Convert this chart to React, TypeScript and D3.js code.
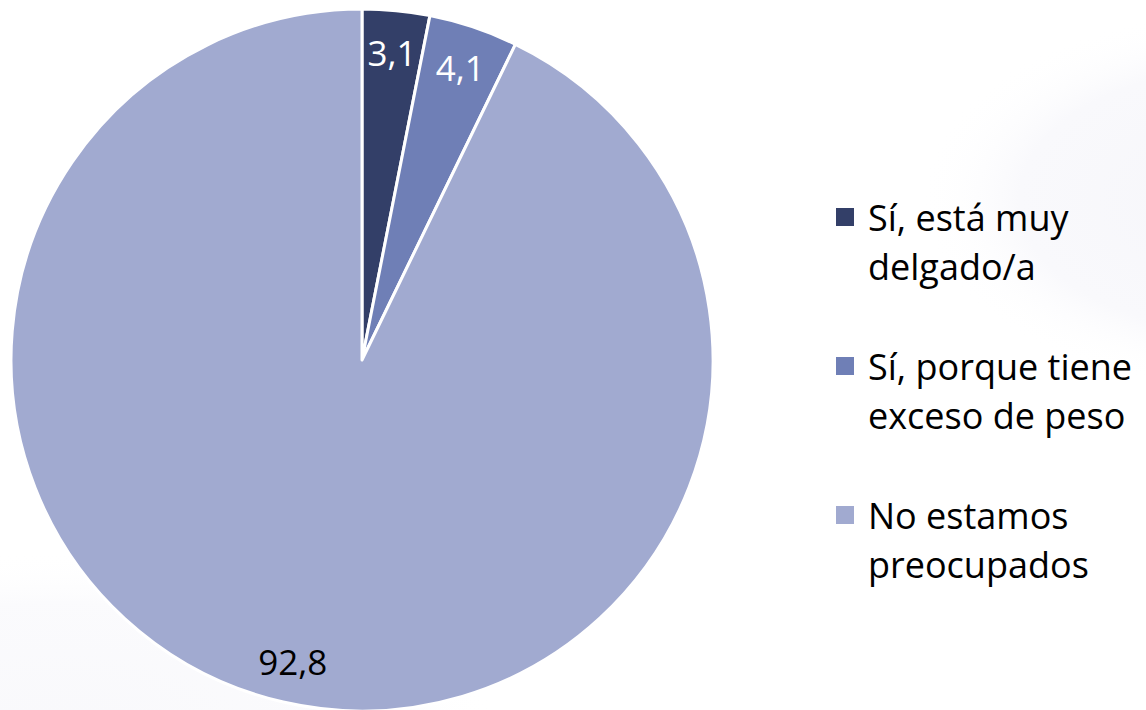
import React from "react";
import * as d3 from "d3";

const categories = ["Sí, está muy delgado/a", "Sí, porque tiene exceso de peso", "No estamos preocupados"];
const legendLines = [["Sí, está muy", "delgado/a"], ["Sí, porque tiene", "exceso de peso"], ["No estamos", "preocupados"]];
const values = [3.1, 4.1, 92.8];
const labels = ["3,1", "4,1", "92,8"];
const colors = ["#333F68", "#6F7FB6", "#A1AAD0"];
const labelColors = ["#FFFFFF", "#FFFFFF", "#000000"];

const W = 1146;
const H = 710;
const FONT = "'Open Sans', 'Noto Sans', sans-serif";

export default function App() {
  const cx = 362;
  const cy = 360;
  const r = 351;
  const pie = d3.pie<number>().sort(null).value((d) => d);
  const arcs = pie(values);
  const arcGen = d3.arc<d3.PieArcDatum<number>>().innerRadius(0).outerRadius(r);
  const labelArc = d3.arc<d3.PieArcDatum<number>>().innerRadius(r * 0.88).outerRadius(r * 0.88);

  const legendX = 836;
  const legendTop = 231;
  const itemGap = 149;
  const lineGap = 48.5;

  return (
    <svg
      width={W}
      height={H}
      style={{ position: "absolute", left: 0, top: 0, display: "block", background: "#ffffff" }}
    >
      <defs>
        <radialGradient id="bgShade" cx="0.5" cy="0.5" r="0.5">
          <stop offset="0%" stopColor="#f6f6fa" />
          <stop offset="70%" stopColor="#f9f9fc" />
          <stop offset="100%" stopColor="#ffffff" stopOpacity={0} />
        </radialGradient>
      </defs>
      <rect x={0} y={0} width={W} height={H} fill="#ffffff" />
      <ellipse cx={1250} cy={200} rx={330} ry={190} fill="url(#bgShade)" />
      <ellipse cx={60} cy={730} rx={440} ry={180} fill="url(#bgShade)" opacity={0.7} />
      <g transform={`translate(${cx},${cy})`}>
        {arcs.map((a, i) => (
          <path key={categories[i]} d={arcGen(a) || ""} fill={colors[i]} stroke="#ffffff" strokeWidth={3} strokeLinejoin="round" />
        ))}
        {arcs.map((a, i) => {
          const [lx, ly] = labelArc.centroid(a);
          return (
            <text
              key={"l" + i}
              x={lx}
              y={ly}
              textAnchor="middle"
              dominantBaseline="central"
              fontFamily={FONT}
              fontSize={35}
              fill={labelColors[i]}
            >
              {labels[i]}
            </text>
          );
        })}
      </g>
      {legendLines.map((lines, i) => {
        const base = legendTop + i * itemGap;
        return (
          <g key={"lg" + i}>
            <rect x={legendX} y={base - 23} width={18} height={18} fill={colors[i]} />
            {lines.map((t, j) => (
              <text
                key={j}
                x={legendX + 32}
                y={base + j * lineGap}
                fontFamily={FONT}
                fontSize={36}
                fill="#000000"
              >
                {t}
              </text>
            ))}
          </g>
        );
      })}
    </svg>
  );
}
